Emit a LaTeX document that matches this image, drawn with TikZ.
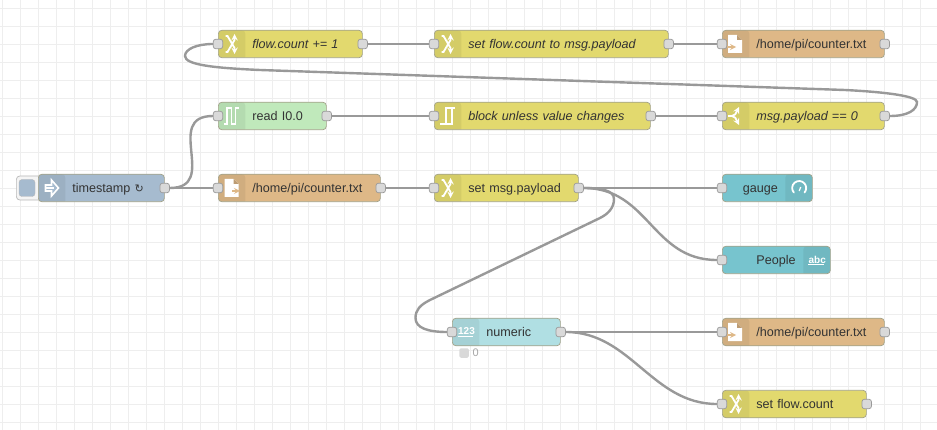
\documentclass[tikz,border=0pt]{standalone}
\usepackage{fontspec}
\setmainfont{Liberation Sans}
\newfontfamily\symbolfont{DejaVu Sans}
\usetikzlibrary{positioning,calc}
\definecolor{gridcol}{HTML}{EEEEEE}
\definecolor{wirecol}{HTML}{999999}
\definecolor{boxline}{HTML}{A3A38A}
\definecolor{portfill}{HTML}{D9D9D9}
\definecolor{textcol}{HTML}{333333}
\definecolor{changecol}{HTML}{E2D96E}
\definecolor{filecol}{HTML}{DEB887}
\definecolor{injectcol}{HTML}{A6BBCF}
\definecolor{readcol}{HTML}{C0E9BB}
\definecolor{numericcol}{HTML}{B0DFE3}
\definecolor{uicol}{HTML}{77C4CE}
\tikzset{
  leftband/.style={path picture={\fill[black,opacity=.06] (path picture bounding box.north west) rectangle ++(27,30);}},
  rightband/.style={path picture={\fill[black,opacity=.06] (path picture bounding box.north east) rectangle ++(-27,30);}},
  flowbox/.style={rectangle,rounded corners=3.5,draw=boxline,line width=.7,inner sep=0pt,minimum height=27.5,anchor=west,
    text width=#1,text height=11,text depth=2,align=left,font=\fontsize{12.6}{14}\selectfont,text=textcol},
  italictext/.style={font=\fontsize{12.6}{14}\selectfont\itshape},
  textskip/.style={execute at begin node={\hspace*{#1pt}}},
  changenode/.style={flowbox=#1,fill=changecol,leftband,textskip=34},
  filenode/.style={flowbox=#1,fill=filecol,leftband,textskip=34},
  injectnode/.style={flowbox=#1,fill=injectcol,leftband,textskip=34},
  readnode/.style={flowbox=#1,fill=readcol,leftband,textskip=34},
  numericnode/.style={flowbox=#1,fill=numericcol,leftband,textskip=34},
  uinode/.style={flowbox=#1,fill=uicol,rightband},
  portbox/.style={rectangle,rounded corners=2.5,draw=wirecol,line width=.7,fill=portfill,minimum size=9.5,inner sep=0pt},
  wire/.style={draw=wirecol,line width=2.4},
  iconline/.style={draw=white,line width=1.8},
  icontext/.style={inner sep=0pt,text=white,font=\fontsize{10}{10}\selectfont\bfseries},
  changeicon/.pic={
    \draw[iconline,-stealth] (-6,-8) -- (-4,-8) -- (3,4) -- (3,10);
    \draw[iconline,-stealth] (-6,8) -- (-4,8) -- (3,-4) -- (3,-10);
  },
  pulseicon/.pic={
    \draw[iconline,line width=1.5] (-8,8) -- (-5,8) -- (-5,-8) -- (-.5,-8) -- (-.5,8) -- (3.5,8) -- (3.5,-8) -- (7,-8);
  },
  stepicon/.pic={
    \draw[iconline,line width=1.4] (-8,8) -- (4,8) -- (4,-8) -- (-2,-8) -- (-2,8);
    \draw[iconline,line width=1.4] (4,-8) -- (7,-8);
  },
  forkicon/.pic={
    \draw[iconline,-stealth] (-8,0) -- (-4,0) .. controls (-1,0) and (0,-3) .. (1,-5) -- (3,-9);
    \draw[iconline,-stealth] (-4,0) .. controls (-1,0) and (0,3) .. (1,5) -- (3,9);
  },
  docicon/.pic={
    \fill[white] (-7,-9) -- (2,-9) -- (7,-4) -- (7,9) -- (-7,9) -- cycle;
    \fill[filecol!85!black] (2,-9) -- (2,-4) -- (7,-4) -- cycle;
  },
  arrowicon/.pic={
    \draw[draw=white,line width=1.6,fill=injectcol] (-6,-3) -- (0,-3) -- (0,-8) -- (7,0) -- (0,8) -- (0,3) -- (-6,3) -- cycle;
    \draw[iconline,line width=1.2] (-6,0) -- (2,0);
  },
  gaugeicon/.pic={
    \draw[iconline,line cap=round] (-5.4,4.5) arc[start angle=140,end angle=400,radius=7];
    \draw[iconline,line width=1.2] (0,3) -- (1.5,-1);
  }
}
\begin{document}
\begin{tikzpicture}[x=1pt,y=-1pt]
  \useasboundingbox[fill=white] (0,0) rectangle (937,430);
  % grid
  \foreach \gx in {2,20,...,938} \draw[gridcol,line width=.8] (\gx,0) -- (\gx,430);
  \foreach \gy in {8,26,...,430} \draw[gridcol,line width=.8] (0,\gy) -- (937,\gy);

  % top row
  \node[changenode=144,italictext] (flowinc) at (218,44) {flow.count += 1};
  \node[changenode=234,italictext] (flowset) at (434,44) {set flow.count to msg.payload};
  \node[filenode=162] (filetop) at (722,44) {/home/pi/counter.txt};
  % second row
  \node[readnode=108] (readin) at (218,116) {read I0.0};
  \node[changenode=216,italictext] (rbe) at (434,116) {block unless value changes};
  \node[changenode=162,italictext] (switch) at (722,116) {msg.payload == 0};
  % third row
  \node[rectangle,rounded corners=3.5,draw=wirecol!70,line width=.7,fill=gray!8,minimum width=26,minimum height=24,inner sep=0pt,anchor=west] (tsbutton) at (16,188) {};
  \node[rectangle,rounded corners=3,fill=injectcol,draw=wirecol!70,line width=.4,minimum width=16,minimum height=17,inner sep=0pt] (tsinner) at (27,188) {};
  \node[injectnode=126] (stamp) at (38,188) {timestamp {\symbolfont\fontsize{11}{14}\selectfont ↻}};
  \node[filenode=162] (fileread) at (218,188) {/home/pi/counter.txt};
  \node[changenode=144] (setmsg) at (434,188) {set msg.payload};
  \node[uinode=90,textskip=20.5] (gauge) at (722,188) {gauge};
  \node[uinode=108,textskip=34] (people) at (722,260) {People};
  % lower rows
  \node[numericnode=108] (numeric) at (452,332) {numeric};
  \node[filenode=162] (filelow) at (722,332) {/home/pi/counter.txt};
  \node[changenode=144] (setcount) at (722,404) {set flow.count};
  % status under numeric
  \node[rectangle,rounded corners=1.5,fill=portfill,minimum size=9.5,inner sep=0pt] (statusdot) at (464,353) {};
  \node[right=3.5pt of statusdot,inner sep=0pt,text=gray!70,font=\fontsize{11}{11}\selectfont] (statustext) {0};

  % ports
  \node[portbox] (flowincin) at (flowinc.west) {};
  \node[portbox] (flowincout) at (flowinc.east) {};
  \node[portbox] (flowsetin) at (flowset.west) {};
  \node[portbox] (flowsetout) at (flowset.east) {};
  \node[portbox] (filetopin) at (filetop.west) {};
  \node[portbox] (filetopout) at (filetop.east) {};
  \node[portbox] (readinin) at (readin.west) {};
  \node[portbox] (readinout) at (readin.east) {};
  \node[portbox] (rbein) at (rbe.west) {};
  \node[portbox] (rbeout) at (rbe.east) {};
  \node[portbox] (switchin) at (switch.west) {};
  \node[portbox] (switchout) at (switch.east) {};
  \node[portbox] (stampout) at (stamp.east) {};
  \node[portbox] (filereadin) at (fileread.west) {};
  \node[portbox] (filereadout) at (fileread.east) {};
  \node[portbox] (setmsgin) at (setmsg.west) {};
  \node[portbox] (setmsgout) at (setmsg.east) {};
  \node[portbox] (gaugein) at (gauge.west) {};
  \node[portbox] (peoplein) at (people.west) {};
  \node[portbox] (numericin) at (numeric.west) {};
  \node[portbox] (numericout) at (numeric.east) {};
  \node[portbox] (filelowin) at (filelow.west) {};
  \node[portbox] (filelowout) at (filelow.east) {};
  \node[portbox] (setcountin) at (setcount.west) {};
  \node[portbox] (setcountout) at (setcount.east) {};

  % icons
  \path (flowinc.west) ++(13.5,0) pic {changeicon};
  \path (flowset.west) ++(13.5,0) pic {changeicon};
  \path (setmsg.west) ++(13.5,0) pic {changeicon};
  \path (setcount.west) ++(13.5,0) pic {changeicon};
  \path (readin.west) ++(14,0) pic {pulseicon};
  \path (rbe.west) ++(14,0) pic {stepicon};
  \path (switch.west) ++(14,0) pic {forkicon};
  \path (stamp.west) ++(13.5,0) pic {arrowicon};
  \path (filetop.west) ++(13,0) pic {docicon};
  \path (fileread.west) ++(13.5,0) pic {docicon};
  \path (filelow.west) ++(13,0) pic {docicon};
  \draw[filecol,line width=1.6,-stealth] (fileread.west) ++(14,3) -- ++(8,0);
  \draw[filecol,line width=1.6,-stealth] (filetop.west) ++(5,3) -- ++(9,0);
  \draw[filecol,line width=1.6,-stealth] (filelow.west) ++(5,3) -- ++(9,0);
  \path (gauge.east) ++(-13.5,0) pic {gaugeicon};
  \node[icontext] (abctext) at ($(people.east)+(-13.5,-.5)$) {abc};
  \draw[white,line width=1] (abctext.south west) ++(0,1.5) -- ++(15.5,0);
  \node[icontext] (numtext) at ($(numeric.west)+(14.5,-.5)$) {123};
  \draw[white,line width=1] (numtext.south west) ++(0,1.5) -- ++(15.5,0);

  % wires
  \draw[wire] (flowincout.east) -- (flowsetin.west);
  \draw[wire] (flowsetout.east) -- (filetopin.west);
  \draw[wire] (readinout.east) -- (rbein.west);
  \draw[wire] (rbeout.east) -- (switchin.west);
  \draw[wire] (stampout.east) -- (filereadin.west);
  \draw[wire] (filereadout.east) -- (setmsgin.west);
  \draw[wire] (setmsgout.east) -- (gaugein.west);
  \draw[wire] (numericout.east) -- (filelowin.west);
  \draw[wire] (stampout.east) .. controls +(50,0) and +(-50,0) .. (readinin.west);
  \draw[wire] (setmsgout.east) .. controls +(65,0) and +(-65,0) .. (peoplein.west);
  \draw[wire] (numericout.east) .. controls +(65,0) and +(-65,0) .. (setcountin.west);
  % long way back from the switch
  \coordinate (loopright) at (917,102);
  \coordinate (loopa) at (845,90);
  \coordinate (loopb) at (260,70);
  \coordinate (loopleft) at (185,56);
  \draw[wire] (switchout.east) .. controls (908,116) and (917,110) .. (loopright)
    .. controls (917,96) and (885,92) .. (loopa) -- (loopb)
    .. controls (215,68) and (185,65) .. (loopleft)
    .. controls (185,49) and (197,44) .. (flowincin.west);
  % down to numeric
  \coordinate (bendtop) at (614,199);
  \coordinate (benda) at (600,218);
  \coordinate (bendb) at (430,300);
  \coordinate (bendleft) at (415.5,318);
  \draw[wire] (setmsgout.east) .. controls (600,188) and (614,190) .. (bendtop)
    .. controls (614,208) and (608,214) .. (benda) -- (bendb)
    .. controls (420,305) and (415.5,310) .. (bendleft)
    .. controls (415.5,328) and (428,332) .. (numericin.west);
\end{tikzpicture}
\end{document}
